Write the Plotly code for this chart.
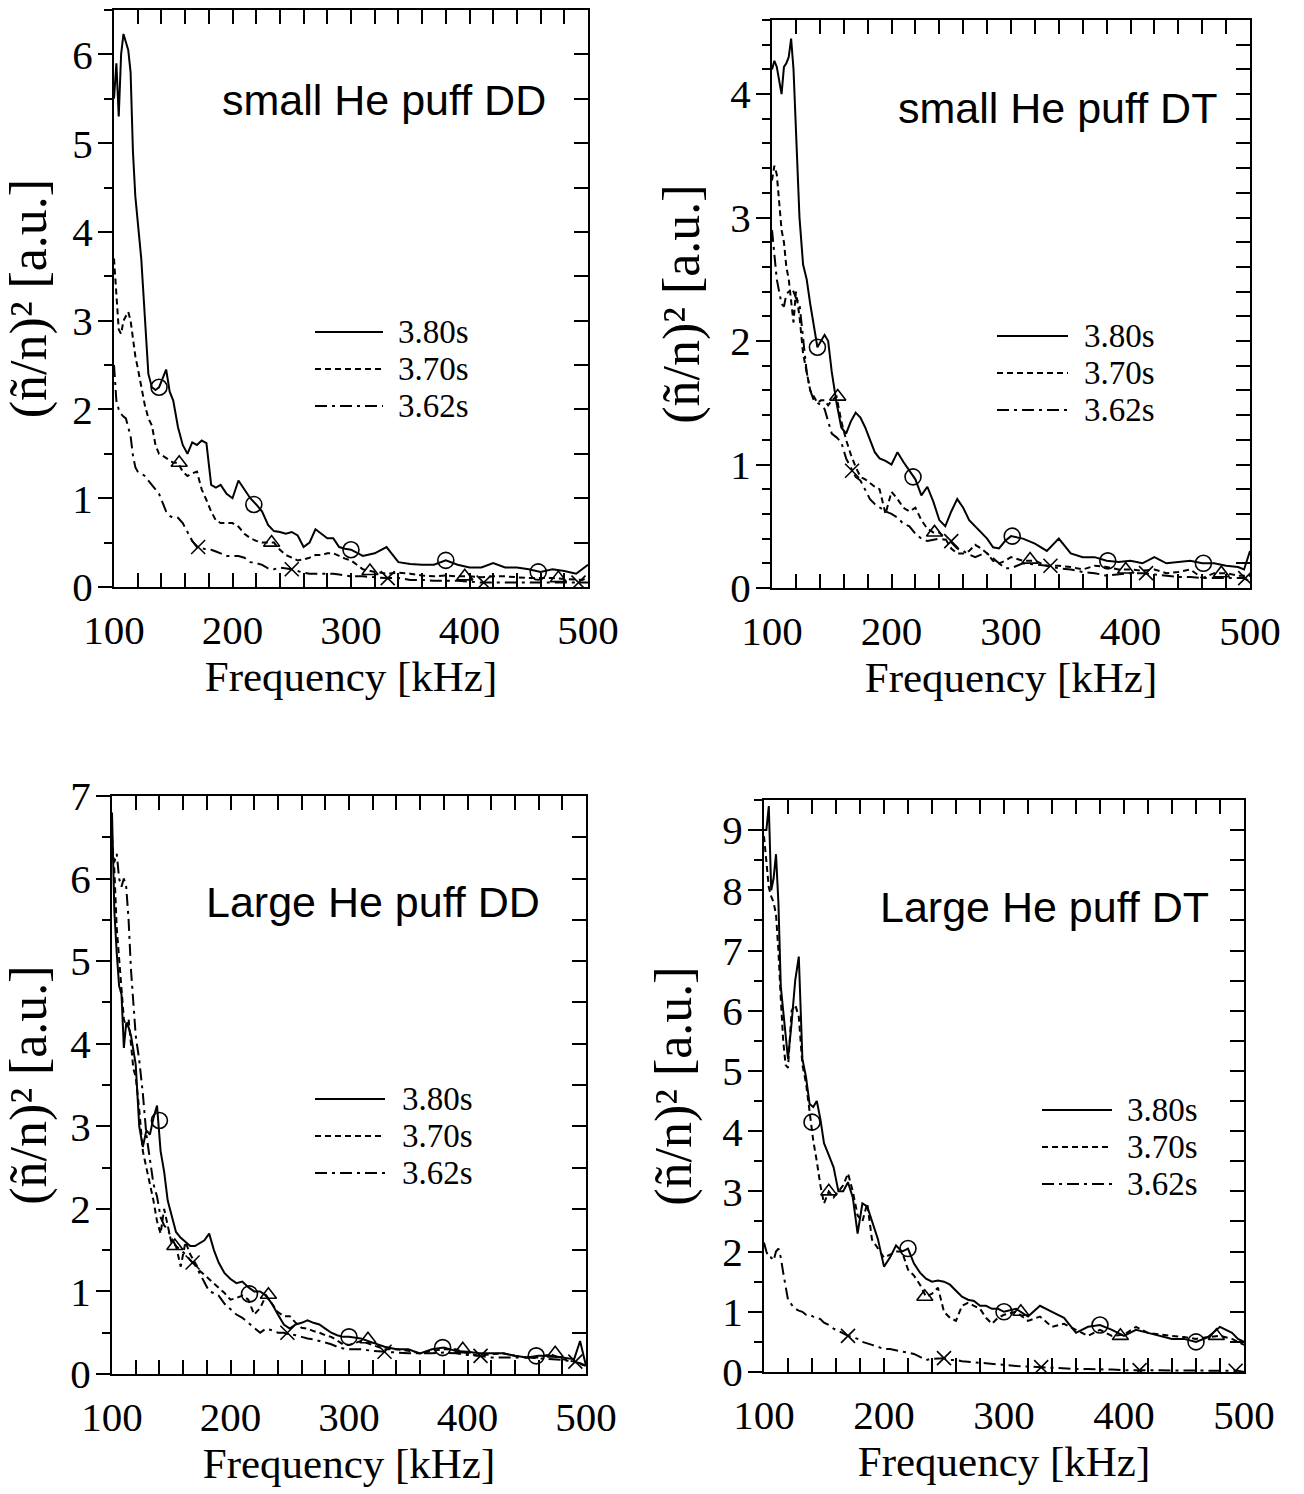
import plotly.graph_objects as go

# ---------------- data ----------------
FREQ = [100, 102, 104, 106, 108, 110, 112, 114, 116, 118, 120,
        123, 126, 129, 132, 135, 138, 141, 144, 147, 150,
        154, 158, 162, 166, 170, 174, 178, 182, 186, 190,
        195, 200, 205, 210, 215, 220, 225, 230, 235, 240, 245, 250,
        255, 260, 265, 270, 275, 280, 285, 290, 295, 300,
        310, 320, 330, 340, 350, 360, 370, 380, 390, 400, 410, 420,
        430, 440, 450, 460, 470, 480, 490, 495, 500]

SERIES_NAMES = ["3.80s", "3.70s", "3.62s"]
X_TICKS = [100, 200, 300, 400, 500]

# small He puff DD
P1_380 = [5.5, 5.9, 5.3, 6.0, 6.23, 6.15, 6.05, 5.8, 4.9, 4.4, 4.1,
          3.7, 3.05, 2.4, 2.25, 2.22, 2.25, 2.35, 2.45, 2.2, 2.1,
          1.8, 1.6, 1.5, 1.63, 1.6, 1.65, 1.62, 1.15, 1.12, 1.15,
          1.05, 1.0, 1.2, 1.1, 1.0, 0.93, 0.85, 0.7, 0.63, 0.62, 0.6, 0.62,
          0.58, 0.45, 0.5, 0.65, 0.6, 0.55, 0.55, 0.45, 0.43, 0.42,
          0.35, 0.38, 0.45, 0.28, 0.26, 0.25, 0.25, 0.3, 0.25, 0.22, 0.22, 0.27,
          0.22, 0.22, 0.2, 0.17, 0.2, 0.18, 0.15, 0.2, 0.25]
P1_370 = [3.7, 3.3, 2.9, 2.85, 3.0, 3.05, 3.1, 3.0, 2.8, 2.6, 2.47,
          2.25, 2.05, 1.9, 1.82, 1.6, 1.5, 1.48, 1.45, 1.42, 1.4,
          1.4, 1.3, 1.25, 1.28, 1.3, 1.1, 0.98, 0.85, 0.75, 0.72,
          0.72, 0.72, 0.68, 0.6, 0.55, 0.52, 0.5, 0.5, 0.5, 0.42, 0.36, 0.33,
          0.3, 0.31, 0.33, 0.36, 0.36, 0.38, 0.38, 0.35, 0.32, 0.3,
          0.2, 0.17, 0.15, 0.16, 0.15, 0.13, 0.12, 0.13, 0.12, 0.12, 0.11, 0.12,
          0.12, 0.11, 0.1, 0.1, 0.1, 0.09, 0.08, 0.08, 0.1]
P1_362 = [2.5, 2.1, 2.0, 1.95, 1.92, 1.9, 1.8, 1.7, 1.48, 1.35, 1.3,
          1.28, 1.25, 1.2, 1.15, 1.1, 1.05, 0.95, 0.85, 0.8, 0.78,
          0.78, 0.72, 0.62, 0.52, 0.45, 0.44, 0.42, 0.42, 0.4, 0.38,
          0.35, 0.35, 0.35, 0.33, 0.28, 0.27, 0.25, 0.21, 0.2, 0.22, 0.21, 0.2,
          0.18, 0.16, 0.15, 0.15, 0.15, 0.15, 0.15, 0.14, 0.13, 0.12,
          0.12, 0.11, 0.1, 0.1, 0.08, 0.08, 0.07, 0.07, 0.07, 0.06, 0.05, 0.05,
          0.05, 0.05, 0.05, 0.05, 0.05, 0.05, 0.05, 0.05, 0.05]
P1_CIRC_F = [138, 218, 300, 380, 458]
P1_CIRC_V = [2.25, 0.93, 0.42, 0.3, 0.17]
P1_TRI_F = [155, 233, 316, 396, 475]
P1_TRI_V = [1.4, 0.5, 0.18, 0.12, 0.1]
P1_X_F = [171, 250, 331, 412, 492]
P1_X_V = [0.45, 0.2, 0.1, 0.05, 0.05]

# small He puff DT
P2_380 = [4.2, 4.27, 4.22, 4.1, 4.0, 4.22, 4.25, 4.3, 4.45, 4.2, 3.75,
          3.0, 2.62, 2.5, 2.3, 2.12, 1.95, 2.0, 2.05, 2.0, 1.75,
          1.5, 1.3, 1.25, 1.35, 1.42, 1.38, 1.3, 1.2, 1.1, 1.05,
          1.03, 1.0, 1.1, 1.02, 0.95, 0.88, 0.75, 0.82, 0.7, 0.55, 0.5, 0.62,
          0.72, 0.65, 0.55, 0.5, 0.45, 0.4, 0.33, 0.32, 0.38, 0.42,
          0.4, 0.36, 0.3, 0.4, 0.28, 0.25, 0.25, 0.22, 0.21, 0.22, 0.2, 0.25,
          0.2, 0.21, 0.22, 0.2, 0.2, 0.18, 0.17, 0.15, 0.3]
P2_370 = [3.3, 3.42, 3.35, 3.15, 2.9, 2.8, 2.6, 2.5, 2.3, 2.15, 2.4,
          2.2, 1.9, 1.75, 1.6, 1.55, 1.5, 1.52, 1.52, 1.48, 1.52,
          1.55, 1.35, 1.2, 1.08, 0.98, 0.9, 0.88, 0.85, 0.82, 0.8,
          0.6, 0.78, 0.72, 0.65, 0.62, 0.65, 0.55, 0.48, 0.45, 0.45, 0.4, 0.32,
          0.28, 0.28, 0.3, 0.35, 0.32, 0.28, 0.22, 0.2, 0.22, 0.25,
          0.22, 0.22, 0.18, 0.18, 0.17, 0.15, 0.18, 0.17, 0.15, 0.15, 0.14, 0.15,
          0.12, 0.13, 0.15, 0.08, 0.12, 0.12, 0.1, 0.1, 0.1]
P2_362 = [2.9, 2.7, 2.5, 2.4, 2.3, 2.28, 2.38, 2.4, 2.42, 2.4, 2.35,
          2.3, 2.0, 1.75, 1.6, 1.52, 1.5, 1.48, 1.45, 1.35, 1.25,
          1.22, 1.18, 1.05, 0.98, 0.9, 0.87, 0.8, 0.72, 0.68, 0.65,
          0.62, 0.6, 0.57, 0.52, 0.5, 0.44, 0.4, 0.38, 0.39, 0.4, 0.39, 0.37,
          0.32, 0.3, 0.27, 0.25, 0.27, 0.28, 0.24, 0.2, 0.16, 0.16,
          0.2, 0.19, 0.18, 0.16, 0.15, 0.13, 0.12, 0.1, 0.11, 0.12, 0.12, 0.11,
          0.1, 0.09, 0.09, 0.08, 0.08, 0.08, 0.08, 0.08, 0.05]
P2_CIRC_F = [138, 218, 301, 381, 461]
P2_CIRC_V = [1.95, 0.9, 0.42, 0.22, 0.2]
P2_TRI_F = [155, 236, 316, 396, 476]
P2_TRI_V = [1.55, 0.45, 0.23, 0.15, 0.12]
P2_X_F = [167, 250, 333, 413, 496]
P2_X_V = [0.95, 0.38, 0.18, 0.12, 0.08]

# Large He puff DD
P3_380 = [6.8, 5.6, 5.1, 4.7, 4.6, 3.95, 4.25, 4.2, 4.1, 3.9, 3.75,
          3.0, 2.75, 2.95, 2.9, 3.1, 3.25, 2.7, 2.45, 2.1, 1.95,
          1.72, 1.65, 1.6, 1.55, 1.55, 1.58, 1.62, 1.7, 1.5, 1.35,
          1.22, 1.15, 1.1, 1.12, 1.05, 1.0, 1.0, 0.95, 0.85, 0.72, 0.6, 0.55,
          0.6, 0.62, 0.65, 0.62, 0.6, 0.55, 0.5, 0.47, 0.45, 0.45,
          0.43, 0.38, 0.33, 0.3, 0.3, 0.25, 0.3, 0.32, 0.28, 0.27, 0.25, 0.25,
          0.25, 0.22, 0.2, 0.22, 0.22, 0.2, 0.18, 0.4, 0.1]
P3_370 = [6.5, 6.1, 5.4, 5.0, 4.6, 4.3, 4.2, 4.3, 4.0, 3.7, 3.6,
          3.2, 2.7, 2.5, 2.3, 2.1, 1.85, 1.7, 2.0, 1.8, 1.6,
          1.55, 1.3, 1.6, 1.45, 1.35, 1.25, 1.2, 1.15, 1.1, 1.05,
          0.98, 0.9, 0.92, 0.95, 0.9, 0.72, 0.8, 0.95, 0.85, 0.75, 0.7, 0.7,
          0.62, 0.56, 0.55, 0.52, 0.5, 0.47, 0.45, 0.4, 0.36, 0.35,
          0.4, 0.35, 0.3, 0.3, 0.28, 0.25, 0.28, 0.3, 0.3, 0.25, 0.22, 0.24,
          0.25, 0.22, 0.2, 0.2, 0.24, 0.18, 0.15, 0.12, 0.1]
P3_362 = [6.3, 6.2, 6.3, 6.0, 5.9, 6.0, 5.9, 5.5, 4.9, 4.5, 4.1,
          3.8, 3.4, 2.9, 2.6, 2.3, 2.15, 1.9, 1.8, 1.75, 1.65,
          1.55, 1.5, 1.45, 1.38, 1.32, 1.22, 1.1, 1.0, 0.98, 0.95,
          0.85, 0.78, 0.72, 0.68, 0.62, 0.55, 0.5, 0.55, 0.53, 0.5, 0.5, 0.48,
          0.47, 0.45, 0.43, 0.42, 0.4, 0.38, 0.36, 0.33, 0.31, 0.3,
          0.3, 0.28, 0.27, 0.26, 0.25, 0.25, 0.25, 0.26, 0.25, 0.23, 0.22, 0.2,
          0.2, 0.2, 0.2, 0.19, 0.18, 0.17, 0.15, 0.13, 0.1]
P3_CIRC_F = [140, 216, 300, 379, 458]
P3_CIRC_V = [3.07, 0.97, 0.45, 0.32, 0.22]
P3_TRI_F = [153, 232, 316, 396, 474]
P3_TRI_V = [1.55, 0.96, 0.42, 0.3, 0.25]
P3_X_F = [168, 248, 330, 411, 491]
P3_X_V = [1.35, 0.5, 0.27, 0.22, 0.15]

# Large He puff DT
P4_380 = [9.0, 9.0, 9.4, 8.0, 8.2, 8.6, 7.8, 6.4, 6.0, 5.6, 5.2,
          5.8, 6.5, 6.9, 5.2, 4.9, 4.45, 4.4, 4.5, 4.2, 3.8,
          3.6, 3.4, 3.0, 3.0, 3.15, 2.9, 2.3, 2.8, 2.75, 2.5,
          2.2, 1.75, 1.9, 2.1, 2.0, 2.05, 1.8, 1.65, 1.55, 1.5, 1.52, 1.5,
          1.45, 1.35, 1.25, 1.2, 1.18, 1.1, 1.1, 1.05, 1.05, 1.0,
          1.05, 0.92, 1.1, 1.0, 0.9, 0.65, 0.75, 0.78, 0.7, 0.6, 0.7, 0.65,
          0.6, 0.55, 0.55, 0.5, 0.58, 0.75, 0.65, 0.55, 0.5]
P4_370 = [8.9, 8.5, 8.05, 7.9, 7.8, 7.6, 7.0, 6.2, 5.5, 5.1, 5.05,
          6.0, 6.1, 5.9, 5.1, 4.8, 4.3, 3.85, 3.5, 3.1, 2.8,
          3.0, 2.9, 3.0, 3.1, 3.3, 3.0, 2.6, 2.5, 2.8, 2.2,
          2.05, 1.9, 1.95, 2.0, 2.0, 1.7, 1.6, 1.45, 1.25, 1.3, 1.4, 1.0,
          0.9, 0.85, 1.1, 1.15, 1.1, 1.05, 0.9, 0.8, 0.9, 0.95,
          1.0, 0.85, 0.92, 0.75, 0.8, 0.7, 0.6, 0.7, 0.6, 0.62, 0.75, 0.65,
          0.62, 0.6, 0.58, 0.55, 0.58, 0.6, 0.55, 0.5, 0.45]
P4_362 = [2.15, 2.0, 1.9, 1.9, 1.85, 2.0, 2.05, 1.9, 1.65, 1.4, 1.2,
          1.12, 1.05, 1.02, 1.0, 0.95, 0.95, 0.92, 0.9, 0.88, 0.82,
          0.78, 0.72, 0.68, 0.65, 0.6, 0.58, 0.55, 0.5, 0.48, 0.45,
          0.42, 0.38, 0.38, 0.36, 0.35, 0.32, 0.3, 0.25, 0.2, 0.22, 0.23, 0.23,
          0.2, 0.2, 0.18, 0.17, 0.16, 0.15, 0.15, 0.13, 0.12, 0.12,
          0.1, 0.09, 0.08, 0.07, 0.05, 0.05, 0.05, 0.05, 0.04, 0.03, 0.03, 0.03,
          0.03, 0.03, 0.02, 0.02, 0.02, 0.02, 0.02, 0.02, 0.0]
P4_CIRC_F = [140, 220, 300, 380, 460]
P4_CIRC_V = [4.15, 2.05, 1.0, 0.78, 0.5]
P4_TRI_F = [154, 234, 314, 397, 477]
P4_TRI_V = [3.0, 1.25, 1.0, 0.6, 0.6]
P4_X_F = [170, 250, 331, 413, 493]
P4_X_V = [0.6, 0.23, 0.08, 0.03, 0.02]

PANEL_TITLES = ["small He puff DD", "small He puff DT",
                "Large He puff DD", "Large He puff DT"]

# ---------------- layout geometry (pixels) ----------------
W, H = 1304, 1494
SERIF = "Liberation Serif"
SANS = "Liberation Sans"

panels = [
    dict(series=[P1_380, P1_370, P1_362],
         marks=[(P1_CIRC_F, P1_CIRC_V), (P1_TRI_F, P1_TRI_V), (P1_X_F, P1_X_V)],
         L=114, R=588, T=10, B=587, ymax=6.5, minor=0.5,
         title_xy=(220, 100), leg_line=(315, 383), leg_rows=(332, 369, 406), leg_text=396),
    dict(series=[P2_380, P2_370, P2_362],
         marks=[(P2_CIRC_F, P2_CIRC_V), (P2_TRI_F, P2_TRI_V), (P2_X_F, P2_X_V)],
         L=772, R=1250, T=20, B=588, ymax=4.6, minor=0.2,
         title_xy=(896, 108), leg_line=(997, 1068), leg_rows=(336, 373, 410), leg_text=1082),
    dict(series=[P3_380, P3_370, P3_362],
         marks=[(P3_CIRC_F, P3_CIRC_V), (P3_TRI_F, P3_TRI_V), (P3_X_F, P3_X_V)],
         L=112, R=586, T=796, B=1374, ymax=7.0, minor=0.5,
         title_xy=(204, 902), leg_line=(315, 385), leg_rows=(1099, 1136, 1173), leg_text=400),
    dict(series=[P4_380, P4_370, P4_362],
         marks=[(P4_CIRC_F, P4_CIRC_V), (P4_TRI_F, P4_TRI_V), (P4_X_F, P4_X_V)],
         L=764, R=1244, T=800, B=1372, ymax=9.5, minor=0.5,
         title_xy=(878, 907), leg_line=(1042, 1112), leg_rows=(1110, 1147, 1184), leg_text=1125),
]

DASHES = ["solid", "6px,4px", "12px,5px,3px,5px"]
SYMBOLS = ["circle-open", "triangle-up-open", "x-thin-open"]
SYM_SIZE = [16, 14, 14]

fig = go.Figure()
layout = dict(
    width=W, height=H, margin=dict(l=0, r=0, t=0, b=0),
    paper_bgcolor="white", plot_bgcolor="white", showlegend=False,
    font=dict(family=SERIF, color="black"),
)
shapes, annotations = [], []

for i, p in enumerate(panels, start=1):
    xs = "" if i == 1 else str(i)
    yo = str(i + 4)
    xdom = [p["L"] / W, p["R"] / W]
    ydom = [1 - p["B"] / H, 1 - p["T"] / H]

    for s, (vals, name) in enumerate(zip(p["series"], SERIES_NAMES)):
        fig.add_trace(go.Scatter(
            x=FREQ, y=vals, mode="lines", name=name,
            line=dict(color="black", width=2, dash=DASHES[s]),
            xaxis="x" + xs, yaxis="y" + xs, showlegend=False))
    for s, (mf, mv) in enumerate(p["marks"]):
        fig.add_trace(go.Scatter(
            x=mf, y=mv, mode="markers", name=SERIES_NAMES[s],
            marker=dict(symbol=SYMBOLS[s], size=SYM_SIZE[s], color="black",
                        line=dict(color="black", width=1.6)),
            xaxis="x" + xs, yaxis="y" + yo, showlegend=False))

    tickfont = dict(family=SERIF, size=41, color="black")
    layout["xaxis" + xs] = dict(
        domain=xdom, anchor="y" + xs, range=[100, 500],
        tickvals=X_TICKS, ticks="inside", ticklen=14, tickwidth=1.5,
        minor=dict(tickmode="linear", tick0=100, dtick=20, ticks="inside",
                   ticklen=14, tickwidth=1.5, tickcolor="black"),
        tickcolor="black", tickfont=tickfont, ticklabelstandoff=6,
        showline=True, linewidth=2, linecolor="black", mirror="allticks",
        showgrid=False, zeroline=False, automargin=False,
        title=dict(text="Frequency [kHz]", font=dict(family=SERIF, size=43), standoff=2))
    layout["yaxis" + xs] = dict(
        domain=ydom, anchor="x" + xs, range=[0, p["ymax"]],
        tickmode="linear", tick0=0, dtick=1, ticks="outside", ticklen=14, tickwidth=1.5,
        minor=dict(tickmode="linear", tick0=0, dtick=p["minor"], ticks="outside",
                   ticklen=8, tickwidth=1.5, tickcolor="black"),
        tickcolor="black", tickfont=tickfont, ticklabelstandoff=-3,
        showline=True, linewidth=2, linecolor="black", mirror=True,
        showgrid=False, zeroline=False, automargin=False,
        title=dict(text="(ñ/n)² [a.u.]", font=dict(family=SERIF, size=52), standoff=14))
    layout["yaxis" + yo] = dict(
        overlaying="y" + xs, anchor="x" + xs, side="right", range=[0, p["ymax"]],
        tickmode="linear", tick0=0, dtick=p["minor"], ticks="inside", ticklen=14, tickwidth=1.5,
        tickcolor="black", showticklabels=False, showline=False,
        showgrid=False, zeroline=False, automargin=False)

    # panel label
    tx, ty = p["title_xy"]
    annotations.append(dict(
        text=PANEL_TITLES[i - 1], x=tx / W, y=1 - ty / H, xref="paper", yref="paper",
        xanchor="left", yanchor="middle", showarrow=False,
        font=dict(family=SANS, size=43, color="black")))

    # legend key
    lx0, lx1 = p["leg_line"]
    for s, row in enumerate(p["leg_rows"]):
        shapes.append(dict(
            type="line", xref="paper", yref="paper",
            x0=lx0 / W, x1=lx1 / W, y0=1 - row / H, y1=1 - row / H,
            line=dict(color="black", width=2, dash=DASHES[s])))
        annotations.append(dict(
            text=SERIES_NAMES[s], x=p["leg_text"] / W, y=1 - row / H,
            xref="paper", yref="paper", xanchor="left", yanchor="middle",
            showarrow=False, font=dict(family=SERIF, size=33, color="black")))

layout["shapes"] = shapes
layout["annotations"] = annotations
fig.update_layout(**layout)
fig.write_html("out.html")
